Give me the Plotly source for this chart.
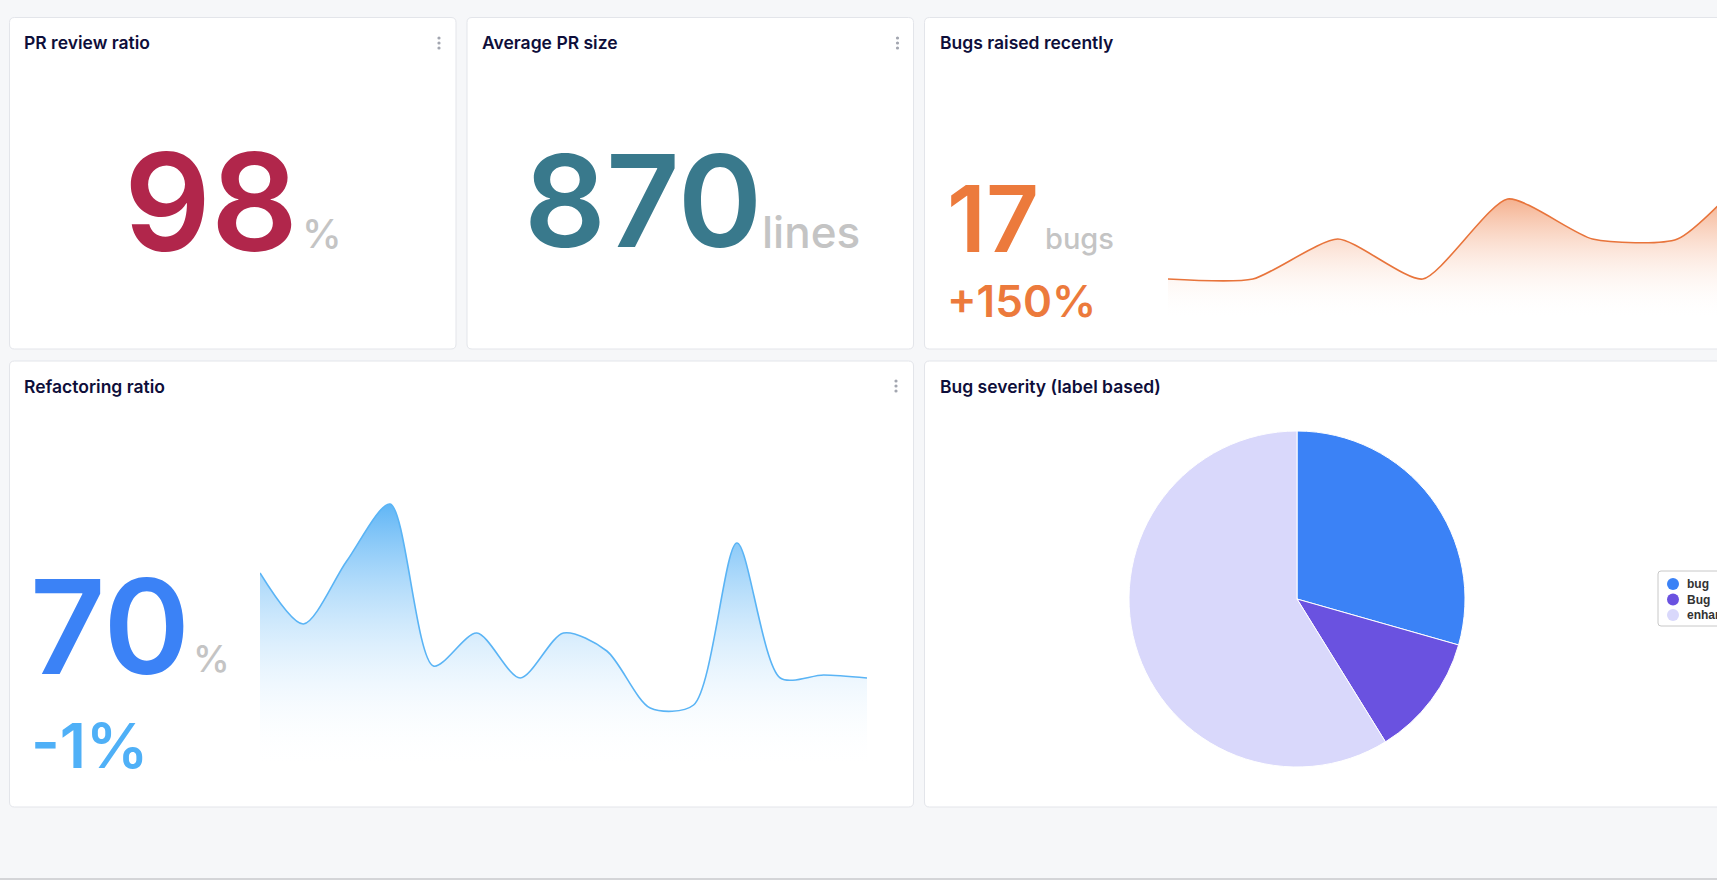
import plotly.graph_objects as go

W, H = 1717, 880

# ---------------- data ----------------
bug_counts = [1, 1, 2, 1, 3, 2, 2, 4]
refactor_ratio = [65, 48, 69, 88, 34, 45, 30, 45, 39, 20, 21, 75, 30, 31, 30]
severity_labels = ["bug", "Bug", "enhancement"]
severity_counts = [5, 2, 10]
severity_colors = ["#3b82f6", "#6a52e0", "#d9d8fb"]

titles = ["PR review ratio", "Average PR size", "Bugs raised recently",
          "Refactoring ratio", "Bug severity (label based)"]
pr_review_ratio = "98"
avg_pr_size = "870"
bugs_recent = "17"
bugs_change = "+150%"
refactor_value = "70"
refactor_change = "-1%"


def px(x):
    return x / W


def py(y):
    return 1 - y / H


def card(x0, y0, x1, y1, r=5, line="#e3e5ea"):
    rx, ry = r / W, r / H
    X0, X1 = px(x0), px(x1)
    T, B = py(y0), py(y1)
    path = (f"M{X0+rx},{T} L{X1-rx},{T} Q{X1},{T} {X1},{T-ry} "
            f"L{X1},{B+ry} Q{X1},{B} {X1-rx},{B} L{X0+rx},{B} Q{X0},{B} {X0},{B+ry} "
            f"L{X0},{T-ry} Q{X0},{T} {X0+rx},{T} Z")
    return dict(type="path", xref="paper", yref="paper", path=path,
                fillcolor="white", line=dict(color=line, width=1), layer="below")


def dot(x, y, r, color):
    return dict(type="circle", xref="paper", yref="paper",
                x0=px(x - r), x1=px(x + r), y0=py(y + r), y1=py(y - r),
                fillcolor=color, line=dict(width=0), layer="above")


def kebab(x, y):
    return [dot(x, y + dy, 1.6, "#a3a6b0") for dy in (-5, 0, 5)]


def txt(x, y, s, size, color, weight=600, family="Inter"):
    return dict(x=px(x), y=py(y), xref="paper", yref="paper", text=s, showarrow=False,
                xanchor="left", yanchor="middle", borderpad=0,
                font=dict(family=family, size=size, color=color, weight=weight))


fig = go.Figure()

# Bugs raised recently sparkline
fig.add_trace(go.Scatter(
    x=list(range(len(bug_counts))), y=bug_counts, mode="lines",
    line=dict(color="#e8743b", width=1.6, shape="spline", smoothing=0.6),
    fill="tozeroy",
    fillgradient=dict(type="vertical", start=0, stop=3,
                      colorscale=[[0, "rgba(255,255,255,0)"], [1, "rgba(240,140,90,0.68)"]]),
    xaxis="x", yaxis="y", showlegend=False, hoverinfo="skip"))

# Refactoring ratio sparkline
fig.add_trace(go.Scatter(
    x=list(range(len(refactor_ratio))), y=refactor_ratio, mode="lines",
    line=dict(color="#5ab4f5", width=1.6, shape="spline", smoothing=0.8),
    fill="tozeroy",
    fillgradient=dict(type="vertical", start=0, stop=88,
                      colorscale=[[0, "rgba(255,255,255,0)"], [1, "rgba(88,178,245,0.95)"]]),
    xaxis="x2", yaxis="y2", showlegend=False, hoverinfo="skip"))

# Bug severity pie
fig.add_trace(go.Pie(
    labels=severity_labels, values=severity_counts, sort=False, direction="clockwise",
    rotation=0, marker=dict(colors=severity_colors, line=dict(color="white", width=1)),
    textinfo="none", showlegend=False, hoverinfo="label+value",
    domain=dict(x=[px(1129), px(1465)], y=[py(767), py(431)])))

shapes = [
    card(9.5, 17.5, 456, 349),
    card(467, 17.5, 913.5, 349),
    card(924.5, 17.5, 1745, 349),
    card(9.5, 361, 913.5, 807),
    card(924.5, 361, 1745, 807),
    dict(type="line", xref="paper", yref="paper", x0=0, x1=1, y0=py(879), y1=py(879),
         line=dict(color="#c9cacd", width=1.5), layer="below"),
]
shapes += kebab(439, 43) + kebab(897.5, 43) + kebab(896, 386)

title_color = "#0e0e3a"
grey = "#c4c4c4"
annotations = [
    txt(23, 43, titles[0], 17.5, title_color),
    txt(481, 43, titles[1], 17.5, title_color),
    txt(939, 43, titles[2], 17.5, title_color),
    txt(23, 386, titles[3], 17.5, title_color),
    txt(939, 386, titles[4], 17.5, title_color),
    txt(123, 201, pr_review_ratio, 136, "#b1264b"),
    txt(301, 234, "%", 40, grey, weight=500),
    txt(523, 200.5, avg_pr_size, 128, "#39798c"),
    txt(761, 232, "lines", 44, grey, weight=500),
    txt(946, 218.5, bugs_recent, 92, "#ec7a3c"),
    txt(1044, 238, "bugs", 29, grey, weight=500),
    txt(946, 300.5, bugs_change, 44, "#ec7a3c"),
    txt(29, 626.5, refactor_value, 131, "#3b82f6"),
    txt(192, 658, "%", 37, grey, weight=500),
    txt(30, 745, refactor_change, 62, "#4fb0f7"),
]

# legend for the pie (box, circle markers, labels)
shapes.append(dict(card(1658, 571, 1790, 626, r=3, line="#c8c8c8"), layer="above"))
for i, (lab, col) in enumerate(zip(severity_labels, severity_colors)):
    ly = 584 + i * 15.5
    shapes.append(dot(1673, ly, 6, col))
    annotations.append(dict(x=px(1686), y=py(ly), xref="paper", yref="paper", text=lab,
                            showarrow=False, xanchor="left", yanchor="middle", borderpad=0,
                            font=dict(family="Liberation Sans", size=12, color="#333333",
                                      weight=700)))

hidden = dict(visible=False, showgrid=False, zeroline=False, fixedrange=True)
fig.update_layout(
    width=W, height=H,
    margin=dict(l=0, r=0, t=0, b=0, autoexpand=False),
    paper_bgcolor="#f6f7f9", plot_bgcolor="rgba(0,0,0,0)",
    xaxis=dict(domain=[px(1168), 1], range=[0, (W - 1168) / 84.9], **hidden),
    yaxis=dict(domain=[py(319), py(119)], range=[0, 5], **hidden),
    xaxis2=dict(domain=[px(260), px(867)], range=[0, 14], **hidden),
    yaxis2=dict(domain=[py(768), py(468)], range=[0, 100], **hidden),
    shapes=shapes, annotations=annotations,
    showlegend=False,
)

fig.write_html("out.html", config={"displayModeBar": False},
               post_script="document.body.style.margin='0';document.body.style.overflow='hidden';")
